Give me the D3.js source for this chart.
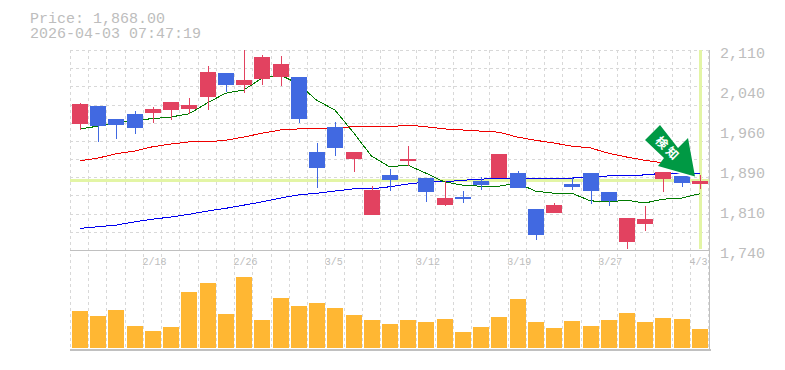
<!DOCTYPE html>
<html><head><meta charset="utf-8">
<script src="https://cdn.jsdelivr.net/npm/d3@7"></script>
<style>
html,body{margin:0;padding:0;background:#fff;}
svg{display:block;}
text{font-family:"Liberation Mono",monospace;}
</style></head><body>
<svg id="c" width="785" height="370"></svg>
<script>
const dates=["2/12","2/13","2/14","2/15","2/18","2/19","2/20","2/21","2/25","2/26","2/27","2/28","3/1","3/4","3/5","3/6","3/7","3/8","3/11","3/12","3/13","3/14","3/15","3/18","3/19","3/21","3/22","3/25","3/26","3/27","3/28","3/29","4/1","4/2","4/3"];
const dateTicks=["2/18","2/26","3/5","3/12","3/19","3/27","4/3"];
const opens =[1973,2006,1982,1992,1993,1999,2001,2023,2067,2045,2056,2060,2060,1921,1968,1908,1805,1879,1905,1873,1823,1838,1868,1873,1882,1816,1808,1862,1882,1847,1755,1788,1871,1877,1862];
const highs =[2012,2006,1982,1997,2005,2014,2021,2080,2067,2110,2101,2099,2060,1938,1977,1921,1858,1890,1932,1873,1868,1849,1875,1918,1886,1816,1827,1875,1882,1847,1799,1821,1884,1877,1879];
const lows  =[1962,1940,1946,1955,1975,1980,1992,1999,2032,2030,2045,2043,1975,1855,1914,1884,1805,1849,1895,1829,1821,1827,1851,1873,1855,1758,1808,1851,1825,1821,1742,1775,1847,1857,1853];
const closes=[2010,1969,1971,1966,2001,2014,2008,2069,2045,2054,2097,2084,1982,1892,1929,1921,1851,1869,1908,1847,1836,1834,1860,1918,1855,1768,1823,1857,1849,1831,1799,1797,1884,1864,1868];
const maShort=[1964,1969,1975,1980,1983,1986,1992,2012,2030,2036,2058,2064,2047,2017,1999,1958,1914,1894,1897,1882,1866,1860,1858,1858,1864,1849,1845,1845,1831,1829,1832,1827,1834,1836,1844];
const maMid=[1905,1910,1918,1923,1931,1936,1940,1940,1943,1949,1956,1962,1964,1964,1966,1968,1968,1968,1971,1968,1964,1962,1960,1958,1949,1943,1938,1932,1929,1919,1912,1906,1901,1894,null];
const maLong=[1780,1783,1786,1792,1797,1801,1806,1812,1817,1823,1829,1836,1842,1845,1849,1853,1853,1857,1862,1866,1866,1869,1871,1873,1873,1873,1873,1873,1875,1877,1877,1879,1882,1882,1882];
const volumes=[37,32,38,22,17,21,56,65,34,71,28,50,42,45,40,33,28,24,28,26,29,16,21,31,49,26,20,27,22,28,35,26,30,29,19];
const priceTicks=[2110,2036,1962,1888,1814,1740];
const lastPrice=1868;
const title1="Price: 1,868.00", title2="2026-04-03 07:47:19", badge=["検","知"];

const UP="#e24260", DOWN="#4169e1", VOL="#ffb733", GRID="#d8d8d8", AXIS="#c0c0c0", TXT="#bdbdbd", MARK="#e3f5a5";
const MONO='"Liberation Mono",monospace';
const svg=d3.select("#c");
const idx=d3.range(dates.length);
const x=d3.scaleBand().domain(idx).range([70.5,708.7]);
const y=d3.scaleLinear().domain([1740,2110]).range([250,50]);
const yV=d3.scaleLinear().domain([0,100]).range([348,248]);
const snap=v=>Math.floor(v)+0.5;

// grid
const g=svg.append("g").attr("shape-rendering","crispEdges");
g.selectAll(".v").data(idx.concat(["end"])).join("line")
 .attr("x1",d=>snap(d==="end"?708:x(d))).attr("x2",d=>snap(d==="end"?708:x(d)))
 .attr("y1",50).attr("y2",350)
 .attr("stroke",GRID).attr("stroke-dasharray","3 3");
g.selectAll(".h").data(d3.range(0,12)).join("line")
 .attr("x1",70).attr("x2",710)
 .attr("y1",d=>Math.round(y(2110-d*370/11))+.5).attr("y2",d=>Math.round(y(2110-d*370/11))+.5)
 .attr("stroke",GRID).attr("stroke-dasharray","3 3");

// current markers
const lastX=x(idx.length-1)+x.bandwidth()/2+1;
g.append("rect").attr("x",70).attr("width",640).attr("y",Math.floor(y(lastPrice))-1).attr("height",3).attr("fill",MARK);
g.append("rect").attr("x",Math.round(lastX)-2).attr("width",3).attr("y",50).attr("height",199).attr("fill",MARK);

// volume
g.selectAll(".vol").data(idx).join("rect")
 .attr("x",d=>Math.round(x(d)+1.5)).attr("width",16)
 .attr("y",d=>yV(volumes[d])).attr("height",d=>yV(0)-yV(volumes[d]))
 .attr("fill",VOL);

// moving averages
const lineFor=a=>d3.line().defined(d=>a[d]!==null).x(d=>x(d)+x.bandwidth()/2).y(d=>y(a[d]))(idx);
[[maLong,"#0000ee",1],[maMid,"#ee0000",1],[maShort,"#007a00",1]].forEach(([a,c,w])=>{
 svg.append("path").attr("d",lineFor(a)).attr("fill","none").attr("stroke",c).attr("stroke-width",w).attr("shape-rendering","crispEdges");
});

// candles
const col=d=>closes[d]>=opens[d]?UP:DOWN;
const cg=svg.append("g").attr("shape-rendering","crispEdges");
cg.selectAll(".w").data(idx).join("line")
 .attr("x1",d=>Math.round(x(d)+1.5)+8.5).attr("x2",d=>Math.round(x(d)+1.5)+8.5)
 .attr("y1",d=>y(highs[d])).attr("y2",d=>y(lows[d]))
 .attr("stroke",col);
cg.selectAll(".b").data(idx).join("rect")
 .attr("x",d=>Math.round(x(d)+1.5)).attr("width",16)
 .attr("y",d=>y(Math.max(opens[d],closes[d])))
 .attr("height",d=>Math.max(2,Math.abs(y(opens[d])-y(closes[d]))))
 .attr("fill",col);

// frame
const f=svg.append("g").attr("shape-rendering","crispEdges").attr("stroke",AXIS);
f.append("line").attr("x1",70).attr("x2",710).attr("y1",250.5).attr("y2",250.5);
f.append("line").attr("x1",70).attr("x2",711).attr("y1",349.5).attr("y2",349.5).attr("stroke-width",2);
f.append("line").attr("x1",709.5).attr("x2",709.5).attr("y1",50).attr("y2",350);

// axes
const ay=svg.append("g").attr("transform","translate(710,0)")
 .call(d3.axisRight(y).tickValues(priceTicks).tickSize(0).tickPadding(10)
   .tickFormat(v=>d3.format(",")(Math.round(v/10)*10)));
ay.select(".domain").remove();
ay.selectAll("text").attr("font-size",15).attr("font-family",MONO).attr("fill",TXT).attr("dy",7.5);

const tickIdx=dateTicks.map(t=>dates.indexOf(t));
const ax=svg.append("g").attr("transform","translate(0,250)")
 .call(d3.axisBottom(x).tickValues(tickIdx).tickSize(0).tickPadding(8).tickFormat(d=>dates[d]));
ax.select(".domain").remove();
ax.selectAll("text").attr("font-size",10).attr("font-family",MONO).attr("fill",TXT)
 .attr("text-anchor","start").attr("dx",-x.bandwidth()/2-1);

// title
svg.append("text").attr("x",30).attr("y",23).attr("font-size",15).attr("fill",TXT).text(title1);
svg.append("text").attr("x",30).attr("y",38).attr("font-size",15).attr("fill",TXT).text(title2);

// signal arrow
const arrow=[[660,125],[645,140],[664,158],[658,166],[695,176.5],[688,138],[678,148]];
svg.append("polygon").attr("points",arrow.map(p=>[p[0]-1,p[1]+1.5].join(",")).join(" ")).attr("fill","#fff");
svg.append("polygon").attr("points",arrow.join(" ")).attr("fill","#009944");
[[662,142.5],[672.5,153]].forEach((p,i)=>{
 svg.append("text").attr("transform",`translate(${p[0]},${p[1]}) rotate(45)`)
  .attr("text-anchor","middle").attr("dy","0.38em")
  .style("font-family",'"Noto Sans CJK JP"').style("font-weight",700).attr("font-size",12).attr("fill","#fff").text(badge[i]);
});
</script>
</body></html>
